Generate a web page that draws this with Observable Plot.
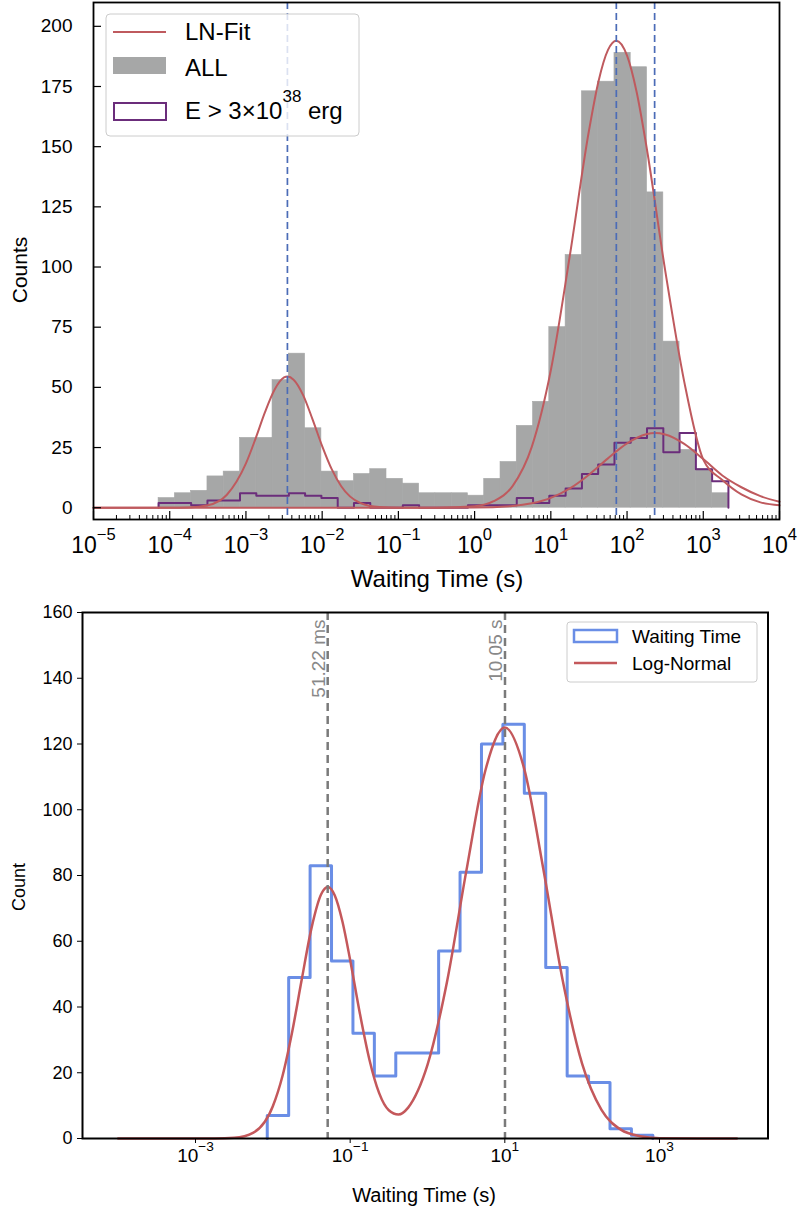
<!DOCTYPE html>
<html><head><meta charset="utf-8">
<script src="https://cdn.jsdelivr.net/npm/d3@7"></script>
<script src="https://cdn.jsdelivr.net/npm/@observablehq/plot@0.6"></script>
<style>
body{margin:0;background:#fff;}
#wrap{position:relative;width:798px;height:1211px;overflow:hidden;font-family:"Liberation Sans",Arial,sans-serif;}
.panel{position:absolute;left:0;}
#overlay{position:absolute;left:0;top:0;pointer-events:none;}
</style></head>
<body><div id="wrap"><div id="p1" class="panel" style="top:0"></div><div id="p2" class="panel" style="top:600px"></div></div>
<script>
// ---------- TOP PANEL DATA ----------
const topEdgesLog = [-4.146,-3.932,-3.719,-3.505,-3.292,-3.078,-2.864,-2.651,-2.437,-2.224,-2.010,-1.796,-1.583,-1.369,-1.156,-0.942,-0.728,-0.515,-0.301,-0.088,0.126,0.340,0.553,0.767,0.980,1.194,1.408,1.621,1.835,2.048,2.262,2.476,2.689,2.903,3.116,3.330];
const topAllCounts = [4,6,7,13,15,29,29,53,64,33,15,11,14,16,12,10,6,6,6,5,12,19,34,44,75,105,173,177,189,183,131,69,24,16,6];
const topHighECounts = [2,2,1,3,3,6,5,5,6,5,4,0,2,0,0,1,0,0,0,1,1,1,4,2,5,8,14,18,27,29,33,23,31,16,11];
const topFitLog = [-5,-4.5,-4,-3.75,-3.5,-3.25,-3,-2.875,-2.75,-2.625,-2.5,-2.455,-2.375,-2.25,-2.125,-2,-1.875,-1.75,-1.5,-1.25,-1,-0.5,0,0.25,0.5,0.75,1,1.25,1.5,1.625,1.75,1.86,2,2.125,2.25,2.5,2.75,3,3.25,3.5,3.75,4];
const topFitAll = [0,0,0.01,0.12,1.0,5.4,18.4,28.6,39.7,49.0,54.1,54.5,53.2,46.8,36.6,25.6,16.0,8.9,1.95,0.27,0.02,0.02,0.64,2.7,9.1,25.3,57.1,104.9,156.6,177.1,190.2,194,187.8,172.8,150.9,98.6,52.4,20,11.5,5.5,2.2,1.0];
const topFit2Log = [-5,-1,0,0.5,0.75,1,1.25,1.5,1.75,2,2.25,2.37,2.5,2.75,3,3.25,3.5,3.75,4];
const topFitHighE = [0,0,0.07,0.71,1.82,4.07,7.99,13.7,20.5,26.7,30.5,31,30.4,26.5,20.2,13.4,8.5,4.8,2.5];
const topPeakTimes = [0.0035, 72.3, 230];
const topXTickExps = [-5,-4,-3,-2,-1,0,1,2,3,4];
const topYTicks = [0,25,50,75,100,125,150,175,200];

// ---------- BOTTOM PANEL DATA ----------
const botEdgesLog = [-2.072,-1.795,-1.518,-1.241,-0.964,-0.687,-0.410,-0.133,0.144,0.421,0.698,0.975,1.252,1.529,1.806,2.083,2.360,2.637,2.914];
const botCounts = [7,49,83,54,32,19,26,26,57,81,120,126,105,52,19,17,3,1];
const botFitLog = [-4,-3.5,-3,-2.75,-2.5,-2.25,-2,-1.875,-1.75,-1.625,-1.5,-1.375,-1.29,-1.2,-1.1,-1,-0.875,-0.75,-0.625,-0.5,-0.375,-0.25,-0.125,0,0.25,0.5,0.75,1,1.25,1.5,1.75,2,2.25,2.5,2.75,3,3.5,4];
const botFitVals = [0,0,0,0.01,0.2,1.8,9.8,19.0,32.4,48.5,64.0,74.3,76.5,74.0,66.0,54.3,38.1,23.9,13.8,8.6,7.3,9.4,14.5,22.4,47.4,81.1,112.1,125,112.5,81.7,47.9,22.7,8.7,2.7,0.7,0.1,0,0];
const botPeakTimes = [0.05122, 10.05];
const botPeakLabels = ["51.22 ms", "10.05 s"];
const botXTickExps = [-3,-1,1,3];
const botYTicks = [0,20,40,60,80,100,120,140,160];

// ---------- helpers ----------
const FONT = '"Liberation Sans", Arial, sans-serif';
function bins(edges, counts){ return counts.map((c,i)=>({x1:10**edges[i], x2:10**edges[i+1], c})); }
function stepData(edges, counts){
  const n = counts.length;
  const pts = [{x:10**edges[0], y:0}];
  counts.forEach((c,i)=>pts.push({x:10**edges[i], y:c}));
  pts.push({x:10**edges[n], y:counts[n-1]});
  pts.push({x:10**edges[n], y:0});
  return pts;
}
function curvePts(xs, ys){ return xs.map((l,i)=>({x:10**l, y:ys[i]})); }
function supFormat(svg, size){
  d3.select(svg).selectAll("text").each(function(){
    const t = this.textContent;
    if (t.indexOf("^") < 0) return;
    const [base, exp] = t.split("^");
    const sel = d3.select(this);
    sel.text(null).attr("font-size", size);
    sel.append("tspan").text(base);
    sel.append("tspan").attr("dy","-0.8em").attr("font-size","0.72em").text(exp);
  });
}
function expFmt(d){ return "10^" + String(Math.round(Math.log10(d))).replace("-","\u2212"); }

// ---------- TOP PLOT ----------
const t = {w:798, h:600, ml:93, mr:19, mt:2, mb:81};
const tFW = t.w - t.ml - t.mr, tFH = t.h - t.mt - t.mb;
const majorX = topXTickExps.map(e=>10**e);
const minorX = [];
topXTickExps.slice(0,-1).forEach(e=>{ for (let k=2;k<=9;k++) minorX.push(k*10**e); });

const topPlot = Plot.plot({
  width:t.w, height:t.h, marginLeft:t.ml, marginRight:t.mr, marginTop:t.mt, marginBottom:t.mb,
  x:{type:"log", domain:[1e-5,1e4]},
  y:{domain:[-4.9,209.9]},
  style:{fontFamily:FONT, fontSize:"19px", color:"#000", background:"#fff", overflow:"visible"},
  marks:[
    Plot.rect(bins(topEdgesLog, topAllCounts), {x1:"x1", x2:"x2", y1:0, y2:"c", fill:"#a6a7a7", stroke:"#a6a7a7", strokeWidth:0.6, inset:0}),
    Plot.line(stepData(topEdgesLog, topHighECounts), {x:"x", y:"y", curve:"step-after", stroke:"#6b2d7b", strokeWidth:2}),
    Plot.line(curvePts(topFitLog, topFitAll), {x:"x", y:"y", curve:"monotone-x", stroke:"#bf5a5e", strokeWidth:2}),
    Plot.line(curvePts(topFit2Log, topFitHighE), {x:"x", y:"y", curve:"monotone-x", stroke:"#bf5a5e", strokeWidth:2}),
    Plot.ruleX(topPeakTimes, {stroke:"#4b6cb7", strokeWidth:1.7, strokeDasharray:"7,4"}),
    Plot.ruleX(majorX, {insetTop:tFH-8, stroke:"#000", strokeWidth:1.2}),
    Plot.ruleX(minorX, {insetTop:tFH-4, stroke:"#000", strokeWidth:1}),
    Plot.ruleY(topYTicks, {insetRight:tFW-8, stroke:"#000", strokeWidth:1.2}),
    Plot.axisX(majorX, {tickSize:0, tickPadding:17, tickFormat:expFmt, label:null}),
    Plot.axisY(topYTicks, {tickSize:0, tickPadding:21, label:null}),
    Plot.frame({stroke:"#000", strokeWidth:1.8})
  ]
});
supFormat(topPlot, 23);
document.getElementById("p1").appendChild(topPlot);

// ---------- BOTTOM PLOT ----------
const b = {w:798, h:611, ml:82, mr:30.5, mt:12, mb:73};
const bottomPlot = Plot.plot({
  width:b.w, height:b.h, marginLeft:b.ml, marginRight:b.mr, marginTop:b.mt, marginBottom:b.mb,
  x:{type:"log", domain:[10**-4.461, 10**4.403]},
  y:{domain:[0,160]},
  style:{fontFamily:FONT, fontSize:"18px", color:"#000", background:"#fff", overflow:"visible"},
  marks:[
    Plot.line(stepData(botEdgesLog, botCounts), {x:"x", y:"y", curve:"step-after", stroke:"#6a8ee6", strokeWidth:3}),
    Plot.line(curvePts(botFitLog, botFitVals), {x:"x", y:"y", curve:"monotone-x", stroke:"#c4585b", strokeWidth:2.5}),
    Plot.ruleX(botPeakTimes, {stroke:"#7a7a7a", strokeWidth:2.5, strokeDasharray:"8,5"}),
    Plot.text(botPeakTimes.map((v,i)=>({v, lab:botPeakLabels[i]})), {x:"v", text:"lab", frameAnchor:"top", rotate:-90, textAnchor:"end", dx:-16, dy:7, fill:"#888", fontSize:19, fontFamily:FONT}),
    Plot.axisX(botXTickExps.map(e=>10**e), {tickSize:5, tickPadding:5, tickFormat:expFmt, label:null}),
    Plot.axisY(botYTicks, {tickSize:5, tickPadding:5, label:null}),
    Plot.frame({stroke:"#000", strokeWidth:2})
  ]
});
supFormat(bottomPlot, 19);
document.getElementById("p2").appendChild(bottomPlot);

// ---------- overlay: legends & axis titles ----------
const ov = d3.select("#wrap").append("svg").attr("id","overlay").attr("width",798).attr("height",1211)
  .style("font-family", FONT);
// top legend
ov.append("rect").attr("x",106).attr("y",14).attr("width",253).attr("height",122).attr("rx",4)
  .attr("fill","rgba(255,255,255,0.8)").attr("stroke","#cccccc");
ov.append("line").attr("x1",113).attr("x2",166).attr("y1",32).attr("y2",32).attr("stroke","#bf5a5e").attr("stroke-width",2);
ov.append("rect").attr("x",113).attr("y",57).attr("width",53).attr("height",17).attr("fill","#a6a7a7");
ov.append("rect").attr("x",114).attr("y",103).attr("width",52).attr("height",17).attr("fill","none").attr("stroke","#6b2d7b").attr("stroke-width",2);
ov.append("text").attr("x",185).attr("y",40).attr("font-size",24).text("LN-Fit");
ov.append("text").attr("x",185).attr("y",76).attr("font-size",24).text("ALL");
const et = ov.append("text").attr("x",185).attr("y",119).attr("font-size",24);
et.append("tspan").text("E > 3×10");
et.append("tspan").attr("dy",-17).attr("font-size",17).text("38");
et.append("tspan").attr("dy",17).text(" erg");
// top axis titles
ov.append("text").attr("transform","translate(27,270) rotate(-90)").attr("text-anchor","middle").attr("font-size",21).text("Counts");
ov.append("text").attr("x",437).attr("y",587).attr("text-anchor","middle").attr("font-size",24).text("Waiting Time (s)");
// bottom legend
ov.append("rect").attr("x",567).attr("y",622).attr("width",190).attr("height",60).attr("rx",3)
  .attr("fill","rgba(255,255,255,0.8)").attr("stroke","#cccccc");
ov.append("rect").attr("x",574).attr("y",630).attr("width",43).attr("height",12).attr("fill","none").attr("stroke","#6a8ee6").attr("stroke-width",2.5);
ov.append("line").attr("x1",574).attr("x2",617).attr("y1",663).attr("y2",663).attr("stroke","#c4585b").attr("stroke-width",2.5);
ov.append("text").attr("x",632).attr("y",643).attr("font-size",19).text("Waiting Time");
ov.append("text").attr("x",632).attr("y",670).attr("font-size",19).text("Log-Normal");
// bottom axis titles
ov.append("text").attr("transform","translate(25,887) rotate(-90)").attr("text-anchor","middle").attr("font-size",18).text("Count");
ov.append("text").attr("x",424).attr("y",1202).attr("text-anchor","middle").attr("font-size",20).text("Waiting Time (s)");
</script>
</body></html>
